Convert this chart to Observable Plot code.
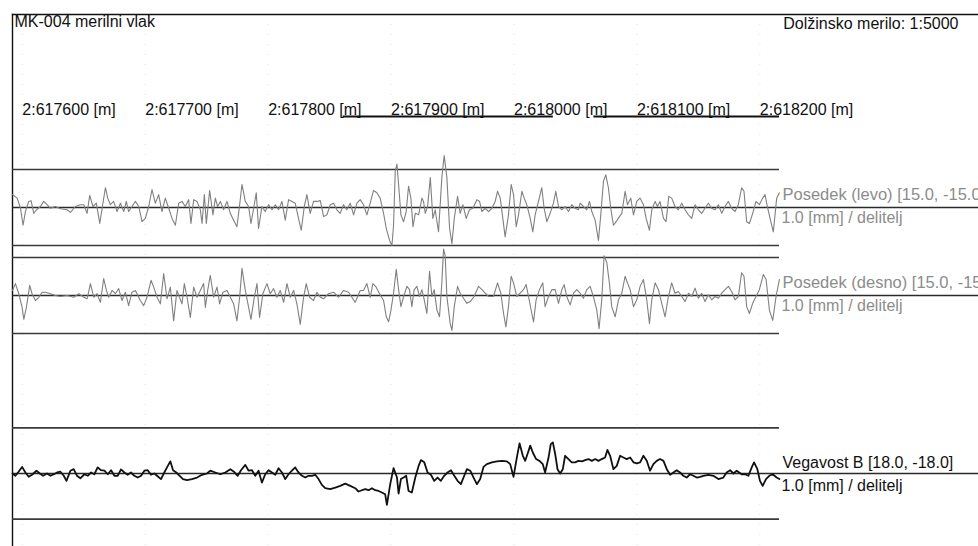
<!DOCTYPE html>
<html><head><meta charset="utf-8">
<script src="https://cdn.jsdelivr.net/npm/d3@7"></script>
<script src="https://cdn.jsdelivr.net/npm/@observablehq/plot@0.6"></script>
<style>html,body{margin:0;padding:0;background:#fff;overflow:hidden}</style>
</head><body><div id="chart"></div>
<script>
// ---- texts ----
const titleLeft = "MK-004 merilni vlak";
const titleRight = "Dolžinsko merilo: 1:5000";
const unitLabel = "1.0 [mm] / delitelj";
const seriesNames = ["Posedek (levo) [15.0, -15.0]", "Posedek (desno) [15.0, -15.0]", "Vegavost B [18.0, -18.0]"];
const seriesLimits = [15, 15, 18];

// ---- stations (m) ----
const stationDomain = [617592, 618216];
const tickStations = [617600, 617700, 617800, 617900, 618000, 618100, 618200];
const tickLabels = tickStations.map(s => `2:${s} [m]`);
const sections = [[617861, 618032], [618065, 618216]];

// ---- series: [station m, value mm] ----
const posedekLevo = [
[617592.0,5.1],[617595.8,3.7],[617598.5,-0.3],[617600.6,-7.0],[617602.5,-1.6],[617605.2,2.4],[617607.1,2.7],[617609.3,-2.3],[617611.5,-0.9],[617614.7,0.4],
[617617.4,2.4],[617620.1,1.1],[617622.9,-0.3],[617626.9,0.4],[617631.0,-0.5],[617636.4,-0.9],[617639.1,-1.9],[617643.2,0.4],[617647.2,1.1],[617650.0,1.1],
[617652.7,-2.3],[617654.8,4.8],[617657.5,0.4],[617660.2,1.7],[617663.0,-6.3],[617664.9,-0.3],[617667.6,7.8],[617669.5,3.7],[617671.6,1.1],[617674.3,2.4],
[617677.1,-1.6],[617679.8,1.7],[617682.5,-1.6],[617684.6,2.4],[617686.5,-1.6],[617689.2,0.4],[617692.0,2.4],[617694.7,0.4],[617697.4,-5.6],[617700.1,-4.3],
[617702.8,0.4],[617705.5,7.1],[617708.2,1.7],[617710.9,5.1],[617713.6,-1.6],[617716.3,3.7],[617719.1,-0.3],[617721.8,-4.3],[617724.5,-7.0],[617727.2,1.7],
[617729.9,2.4],[617732.6,0.4],[617735.3,3.1],[617737.2,-6.3],[617739.4,3.1],[617742.1,2.4],[617744.8,-0.9],[617746.2,-6.3],[617748.1,5.1],[617749.7,-6.3],
[617752.4,6.7],[617755.1,-2.9],[617757.0,3.7],[617758.9,0.4],[617761.1,2.4],[617763.8,-0.9],[617766.5,2.4],[617769.2,-2.3],[617771.9,-5.0],[617774.6,-7.6],
[617776.8,1.1],[617778.7,9.1],[617781.4,2.4],[617784.1,0.4],[617786.0,-6.3],[617788.2,-0.3],[617790.3,5.8],[617792.2,-8.3],[617794.9,0.4],[617797.6,-1.6],
[617800.4,1.1],[617803.1,-0.9],[617805.8,1.1],[617808.5,-0.9],[617811.2,2.4],[617813.9,-5.0],[617816.6,3.1],[617819.3,2.4],[617822.0,1.7],[617824.7,-4.3],
[617826.9,-9.0],[617829.4,0.4],[617831.5,5.1],[617834.2,-2.3],[617836.9,2.4],[617839.7,2.4],[617842.4,2.7],[617845.1,-3.6],[617847.8,-2.9],[617850.5,1.1],
[617853.2,1.7],[617855.9,-0.9],[617858.6,-2.3],[617861.3,1.1],[617864.0,-0.9],[617866.8,1.7],[617869.5,-2.9],[617872.2,1.7],[617874.9,3.1],[617877.6,1.1],
[617880.3,-2.9],[617883.0,1.7],[617885.7,6.7],[617888.4,5.8],[617891.1,3.7],[617893.9,-2.3],[617896.1,-8.3],[617898.8,-13.0],[617900.7,-15.0],[617902.0,-7.0],
[617903.4,14.5],[617904.8,17.1],[617906.1,9.1],[617908.0,-2.9],[617910.2,-5.6],[617912.3,-1.6],[617914.2,8.4],[617916.1,3.7],[617917.8,-7.6],[617919.7,-2.3],
[617922.4,-2.9],[617925.1,3.7],[617926.4,2.4],[617927.8,-2.3],[617929.7,0.4],[617931.9,11.8],[617934.0,-4.3],[617935.9,-0.9],[617938.6,-9.6],[617941.3,11.8],
[617943.2,20.5],[617945.4,11.8],[617947.6,-8.3],[617949.5,-14.3],[617951.4,-4.3],[617954.1,4.4],[617956.2,-2.3],[617958.4,1.1],[617961.1,-4.3],[617963.8,-0.9],
[617966.5,-0.3],[617969.8,3.1],[617972.0,2.4],[617973.9,-1.6],[617976.6,-0.3],[617979.3,-1.6],[617982.0,-0.3],[617984.7,2.4],[617986.6,6.4],[617988.8,3.7],
[617990.9,-4.3],[617992.8,-11.6],[617995.5,-2.9],[617997.7,9.1],[617999.6,5.1],[618001.8,-7.6],[618003.7,-2.9],[618006.4,6.4],[618008.3,3.7],[618010.4,1.1],
[618013.2,-4.3],[618015.3,-9.6],[618017.2,-2.9],[618019.9,2.4],[618022.6,7.8],[618024.5,-0.3],[618026.7,-5.6],[618029.4,-2.3],[618032.1,1.7],[618034.0,6.4],
[618036.2,0.4],[618038.9,-0.9],[618041.6,0.4],[618044.3,-1.6],[618047.0,1.1],[618049.7,-0.3],[618052.4,-0.9],[618053.8,1.7],[618056.5,0.4],[618059.2,-0.9],
[618061.4,2.4],[618063.3,-1.6],[618066.0,-5.0],[618068.7,-13.0],[618070.6,-2.9],[618072.8,10.4],[618074.7,12.9],[618076.8,7.8],[618078.7,-0.3],[618080.9,-7.0],
[618083.1,-5.6],[618085.8,-3.6],[618087.7,-2.3],[618090.4,6.4],[618092.3,1.1],[618095.0,3.7],[618097.2,-2.9],[618099.9,2.4],[618102.6,3.7],[618105.3,1.1],
[618107.5,-4.3],[618110.2,-9.0],[618112.1,-0.9],[618114.8,2.4],[618116.7,0.4],[618118.8,2.4],[618121.6,-4.3],[618123.7,-5.6],[618125.9,4.4],[618128.3,3.7],
[618131.0,0.4],[618133.7,-0.9],[618136.5,1.7],[618139.2,-0.9],[618141.9,-2.9],[618144.6,-4.3],[618147.3,1.1],[618150.0,-0.9],[618152.7,-2.3],[618155.4,-0.3],
[618158.1,1.7],[618160.8,-0.3],[618163.6,-0.9],[618166.3,1.1],[618169.0,-2.3],[618171.7,0.4],[618174.4,2.4],[618177.1,-0.3],[618179.8,-1.6],[618182.5,1.1],
[618185.2,7.8],[618187.1,6.4],[618189.3,-5.6],[618191.5,-6.3],[618194.2,-2.3],[618196.9,2.4],[618199.6,1.1],[618202.3,3.7],[618204.2,5.1],[618206.1,0.4],
[618208.3,-4.3],[618211.0,-9.6],[618213.7,3.7],[618215.9,5.8]
];
const posedekDesno = [
[617592.0,2.0],[617594.4,4.7],[617597.1,0.7],[617599.8,-4.7],[617601.2,-9.4],[617603.3,-4.7],[617606.0,4.0],[617607.9,0.7],[617610.7,-2.0],[617613.4,-0.7],
[617616.1,1.3],[617618.8,1.3],[617622.9,0.7],[617626.9,0],[617631.0,-0.4],[617636.4,0],[617641.8,-0.7],[617645.9,0.7],[617650.0,-0.7],[617652.7,-1.3],
[617655.4,4.7],[617658.1,-0.7],[617660.8,0.7],[617663.5,-2.7],[617666.2,6.7],[617668.4,2.0],[617670.3,-0.7],[617673.0,2.0],[617675.7,0.7],[617678.4,2.7],
[617681.1,-2.0],[617683.8,1.3],[617686.5,-4.0],[617689.2,1.3],[617692.0,2.0],[617696.0,-2.0],[617698.7,-4.0],[617701.4,-0.7],[617704.7,6.0],[617706.9,3.3],
[617709.6,-0.7],[617712.3,-3.3],[617715.0,8.7],[617717.7,-1.3],[617720.4,3.3],[617723.1,-10.0],[617725.8,2.0],[617729.9,-3.3],[617731.8,4.7],[617734.0,-0.7],
[617736.7,-8.7],[617739.4,3.3],[617742.1,-0.7],[617744.8,2.0],[617747.5,4.7],[617748.9,-4.7],[617750.8,2.0],[617752.9,8.0],[617755.6,-0.7],[617758.4,3.3],
[617760.5,-3.3],[617763.2,1.3],[617766.5,2.0],[617769.2,-0.7],[617771.9,-3.3],[617774.6,-10.0],[617776.8,-0.7],[617778.7,10.7],[617781.4,2.0],[617784.1,-4.7],
[617786.0,-9.4],[617788.7,-0.7],[617790.9,4.7],[617793.0,-8.7],[617795.7,0.7],[617799.0,4.7],[617801.7,0.7],[617804.4,2.7],[617807.1,-0.7],[617809.8,2.0],
[617812.6,-2.7],[617815.3,4.7],[617818.0,-0.7],[617820.7,2.0],[617823.4,-3.3],[617826.1,-11.4],[617828.8,-0.7],[617831.0,4.7],[617833.7,-0.7],[617836.9,-2.0],
[617839.7,1.3],[617842.4,-0.7],[617845.1,-1.3],[617849.1,0.7],[617853.2,1.3],[617857.3,-0.7],[617861.3,2.0],[617865.4,1.3],[617868.1,-0.7],[617870.8,-2.7],
[617874.9,2.0],[617877.6,2.0],[617880.3,4.7],[617883.0,-0.7],[617885.2,4.7],[617887.9,3.3],[617890.6,0.7],[617893.9,-2.0],[617896.1,-8.4],[617898.0,-10.4],
[617899.9,-5.8],[617902.0,0.9],[617904.2,10.3],[617906.1,2.3],[617908.0,-4.4],[617910.2,-0.4],[617912.9,3.6],[617915.0,2.3],[617916.9,-4.4],[617918.8,2.3],
[617921.0,3.6],[617923.2,-0.4],[617925.1,2.3],[617927.0,-1.7],[617929.1,-7.1],[617931.3,9.6],[617933.2,-0.4],[617935.1,2.3],[617937.3,-5.8],[617939.4,-8.4],
[617941.3,5.0],[617942.7,18.3],[617944.0,15.7],[617945.4,-0.4],[617948.1,-11.1],[617949.5,-13.8],[617951.4,-4.4],[617954.1,3.6],[617956.2,0.9],[617958.9,-1.1],
[617961.7,-3.1],[617964.4,-2.4],[617967.6,-0.4],[617971.1,3.6],[617973.9,2.3],[617976.6,0.9],[617979.3,-0.4],[617983.3,-0.4],[617986.6,5.0],[617989.3,0.9],
[617991.5,-7.1],[617993.4,-12.4],[617995.5,-4.4],[617997.7,7.6],[617999.6,5.0],[618002.3,-0.4],[618005.0,0.9],[618007.7,2.3],[618009.9,4.3],[618011.8,-0.4],
[618014.5,-7.1],[618015.9,-10.4],[618018.0,-1.7],[618020.7,2.3],[618023.4,5.0],[618025.3,-4.4],[618028.1,-0.4],[618030.8,2.3],[618033.5,2.3],[618036.2,-3.1],
[618038.9,2.3],[618040.8,4.3],[618042.9,-0.4],[618045.7,-3.7],[618048.4,0.9],[618051.1,2.3],[618053.8,0.9],[618056.5,-1.1],[618059.2,2.3],[618061.9,3.6],
[618064.6,-0.4],[618067.4,-5.8],[618069.2,-13.1],[618071.4,-1.7],[618073.3,15.7],[618075.5,13.0],[618077.6,5.0],[618079.5,-4.4],[618082.3,-8.4],[618085.0,-1.7],
[618087.7,0.9],[618090.4,7.6],[618092.3,5.0],[618094.5,2.3],[618097.2,-4.4],[618099.9,-1.7],[618102.6,3.6],[618105.3,6.3],[618108.0,-1.7],[618110.2,-11.1],
[618112.1,-1.7],[618114.8,5.0],[618117.5,2.3],[618120.2,-3.1],[618122.9,-8.4],[618125.6,-0.4],[618128.3,5.0],[618131.0,0.9],[618133.7,1.6],[618136.5,-0.4],
[618139.2,-2.4],[618141.9,0.9],[618144.6,-0.4],[618147.3,2.9],[618150.0,-1.1],[618152.7,0.9],[618155.4,-2.4],[618158.1,0.3],[618160.8,-1.7],[618163.6,-0.4],
[618166.3,-1.1],[618169.0,0.9],[618171.7,2.3],[618174.4,3.6],[618177.1,1.6],[618179.8,-1.7],[618182.5,-0.4],[618185.2,9.0],[618187.1,7.6],[618189.3,-4.4],
[618191.5,-7.1],[618194.2,-3.1],[618196.9,-0.4],[618199.6,2.3],[618202.9,8.3],[618205.1,6.3],[618207.8,-5.8],[618210.5,-9.8],[618213.2,-0.4],[618215.9,6.3]
];
const vegavostB = [
[617592.0,0],[617594.4,-0.9],[617597.1,0.8],[617599.8,2.6],[617602.5,0.4],[617605.2,-1.3],[617607.9,-0.5],[617611.5,1.1],[617614.2,0],[617616.9,-0.9],
[617620.1,0],[617622.9,-0.9],[617625.6,-0.3],[617628.3,0.4],[617631.0,0.7],[617633.7,-0.9],[617635.9,-2.9],[617639.1,1.1],[617641.8,1.7],[617644.5,-0.9],
[617647.2,-1.9],[617650.5,-0.3],[617653.2,-0.9],[617655.9,0.4],[617658.6,-0.3],[617661.3,2.4],[617664.0,1.3],[617666.8,1.1],[617669.5,-0.3],[617672.2,1.3],
[617674.9,-0.9],[617677.6,-0.9],[617680.3,1.6],[617683.0,0.4],[617685.7,-0.5],[617688.4,0.4],[617691.1,-0.9],[617693.9,-1.6],[617696.6,-0.9],[617699.3,1.1],
[617702.0,1.3],[617704.7,-0.5],[617707.4,0],[617710.1,-1.1],[617712.8,-2.2],[617715.5,0.4],[617717.7,2.4],[617720.4,4.8],[617722.6,1.3],[617725.3,0.4],
[617728.0,-0.9],[617730.7,-2.2],[617734.0,-2.6],[617738.0,-2.2],[617742.1,-1.6],[617746.2,-0.5],[617750.2,0],[617752.9,1.1],[617757.0,0.4],[617761.1,-0.3],
[617765.1,0.4],[617769.2,1.7],[617771.9,0.8],[617775.2,-0.9],[617777.9,1.3],[617781.4,3.4],[617784.1,1.1],[617786.8,1.3],[617789.5,-0.9],[617792.2,1.1],
[617794.9,-3.6],[617797.6,-0.3],[617800.4,1.3],[617803.1,0.4],[617805.8,-0.5],[617808.5,2.1],[617811.2,0.4],[617813.9,-2.2],[617816.6,-0.3],[617819.3,1.1],
[617822.0,2.4],[617824.7,0.4],[617827.5,-0.9],[617830.2,-1.6],[617832.9,-0.9],[617835.6,-0.9],[617838.3,-0.5],[617841.0,-2.2],[617843.7,-4.5],[617846.4,-5.8],
[617850.5,-6.2],[617854.6,-5.6],[617858.6,-4.9],[617862.7,-4.0],[617866.8,-4.9],[617870.8,-5.8],[617873.5,-7.1],[617876.3,-6.6],[617879.0,-6.2],[617881.7,-6.6],
[617884.4,-5.8],[617887.1,-6.6],[617889.8,-6.9],[617892.5,-7.5],[617895.2,-8.2],[617896.6,-12.4],[617899.3,-4.2],[617902.0,2.1],[617904.8,-1.6],[617906.1,-7.9],
[617908.0,-2.2],[617910.2,-1.6],[617912.3,-0.9],[617914.2,-6.9],[617916.9,-7.5],[617919.7,-1.6],[617922.4,3.0],[617924.3,5.3],[617927.0,4.4],[617929.7,0.4],
[617932.4,-0.5],[617935.1,-2.9],[617937.8,-1.6],[617940.5,-2.9],[617943.2,-0.9],[617945.9,0.4],[617948.7,1.3],[617951.4,-0.9],[617954.1,-2.9],[617956.8,-4.2],
[617959.5,-0.9],[617961.7,1.7],[617964.4,1.1],[617967.1,-1.6],[617969.8,-4.2],[617972.5,-2.2],[617975.2,2.6],[617977.9,3.7],[617982.0,4.4],[617986.1,4.8],
[617990.1,5.0],[617994.2,4.8],[617996.9,3.7],[617999.6,-1.3],[618002.3,6.3],[618004.5,11.9],[618007.2,7.0],[618009.1,5.0],[618011.0,7.7],[618013.2,11.0],
[618015.3,8.3],[618018.0,5.7],[618020.7,5.0],[618023.4,3.7],[618025.3,0.4],[618028.1,6.3],[618029.9,11.6],[618031.6,12.3],[618033.5,7.7],[618035.4,1.7],
[618037.5,0],[618039.7,1.7],[618041.6,7.0],[618044.3,5.7],[618047.0,4.4],[618049.7,4.4],[618052.4,5.0],[618055.2,4.8],[618057.9,5.3],[618060.6,5.7],
[618063.3,5.0],[618066.0,5.7],[618068.7,5.0],[618071.4,5.7],[618074.1,6.3],[618076.0,9.3],[618078.2,7.0],[618080.9,1.7],[618083.6,3.0],[618086.3,7.0],
[618089.0,6.3],[618091.7,5.7],[618094.5,6.3],[618097.2,4.4],[618099.9,4.0],[618102.6,4.4],[618105.3,7.0],[618108.0,5.0],[618110.7,1.1],[618113.4,3.7],
[618116.1,5.0],[618118.8,5.7],[618121.6,5.0],[618124.3,1.7],[618127.0,-0.5],[618129.7,0.4],[618132.4,1.3],[618135.1,0.4],[618137.8,-0.9],[618140.5,-1.6],
[618143.2,-0.3],[618145.9,-0.9],[618148.7,-1.6],[618151.4,-1.3],[618154.1,-0.9],[618158.1,-0.5],[618162.2,-0.9],[618166.3,-2.2],[618170.3,-1.6],[618173.0,0.4],
[618175.8,1.3],[618178.5,0],[618181.2,1.1],[618185.2,-0.3],[618187.9,-0.3],[618190.7,-0.9],[618193.4,2.4],[618195.3,4.4],[618198.0,1.7],[618200.1,-2.9],
[618202.3,-4.9],[618205.0,-2.2],[618207.7,-0.9],[618210.4,-0.3],[618213.7,-1.6],[618215.9,-2.2]
];

// ---- layout (pixels) ----
const W = 978, H = 546;
const panelShift = [0, 88, 266];          // vertical shift of each panel
const nameShift = [-8, -8, -6];
const unitShift = [15, 15, 17];
const traceColor = ["#808080", "#808080", "#111"];
const traceWidth = [1.1, 1.1, 1.8];
const labelColor = ["#8c8c8c", "#8c8c8c", "#111"];
const seriesData = [posedekLevo, posedekDesno, vegavostB];

const marks = [
  Plot.ruleX(tickStations, {stroke: "#e2e2e2", strokeDasharray: "1 9", strokeWidth: 1}),
  Plot.frame({anchor: "top", stroke: "#111", strokeWidth: 1.4}),
  Plot.frame({anchor: "left", stroke: "#111", strokeWidth: 1.4}),
  Plot.text([titleLeft], {frameAnchor: "top-left", dx: 2, dy: 1, lineAnchor: "top", fill: "#111"}),
  Plot.text([titleRight], {frameAnchor: "top-right", dx: -20, dy: 3, lineAnchor: "top", fill: "#111"}),
  Plot.text(tickStations, {x: d => d, frameAnchor: "top", text: (d, i) => tickLabels[i], textAnchor: "start", lineAnchor: "bottom", dy: 100, fill: "#111"}),
  Plot.ruleY(sections, {x1: d => d[0], x2: d => d[1], y: () => 0, dy: -91, stroke: "#111", strokeWidth: 2})
];

seriesData.forEach((data, i) => {
  const off = panelShift[i], lim = seriesLimits[i];
  marks.push(
    Plot.ruleY([-lim, lim], {x1: stationDomain[0], x2: stationDomain[1], dy: off, stroke: "#3a3a3a", strokeWidth: 1.6}),
    Plot.ruleY([0], {dy: off, stroke: "#2a2a2a", strokeWidth: 1.4}),
    Plot.line(data, {x: d => d[0], y: d => d[1], dy: off, stroke: traceColor[i], strokeWidth: traceWidth[i], curve: "linear"}),
    Plot.text([seriesNames[i]], {x: stationDomain[1], y: 0, dx: 3, dy: off + nameShift[i], textAnchor: "start", lineAnchor: "bottom", fill: labelColor[i], fontSize: i < 2 ? 16.5 : 16}),
    Plot.text([unitLabel], {x: stationDomain[1], y: 0, dx: 2, dy: off + unitShift[i], textAnchor: "start", lineAnchor: "bottom", fill: labelColor[i]})
  );
});

const chart = Plot.plot({
  width: W, height: H,
  marginLeft: 12, marginRight: 0, marginTop: 14, marginBottom: 0,
  x: {domain: stationDomain, range: [12, 779], axis: null},
  y: {domain: [-15, 15], range: [245, 169], axis: null},
  style: {fontFamily: "'Liberation Sans', Arial, sans-serif", fontSize: "16px", background: "#fff", overflow: "hidden"},
  marks
});
document.getElementById("chart").appendChild(chart);
</script>
</body></html>
